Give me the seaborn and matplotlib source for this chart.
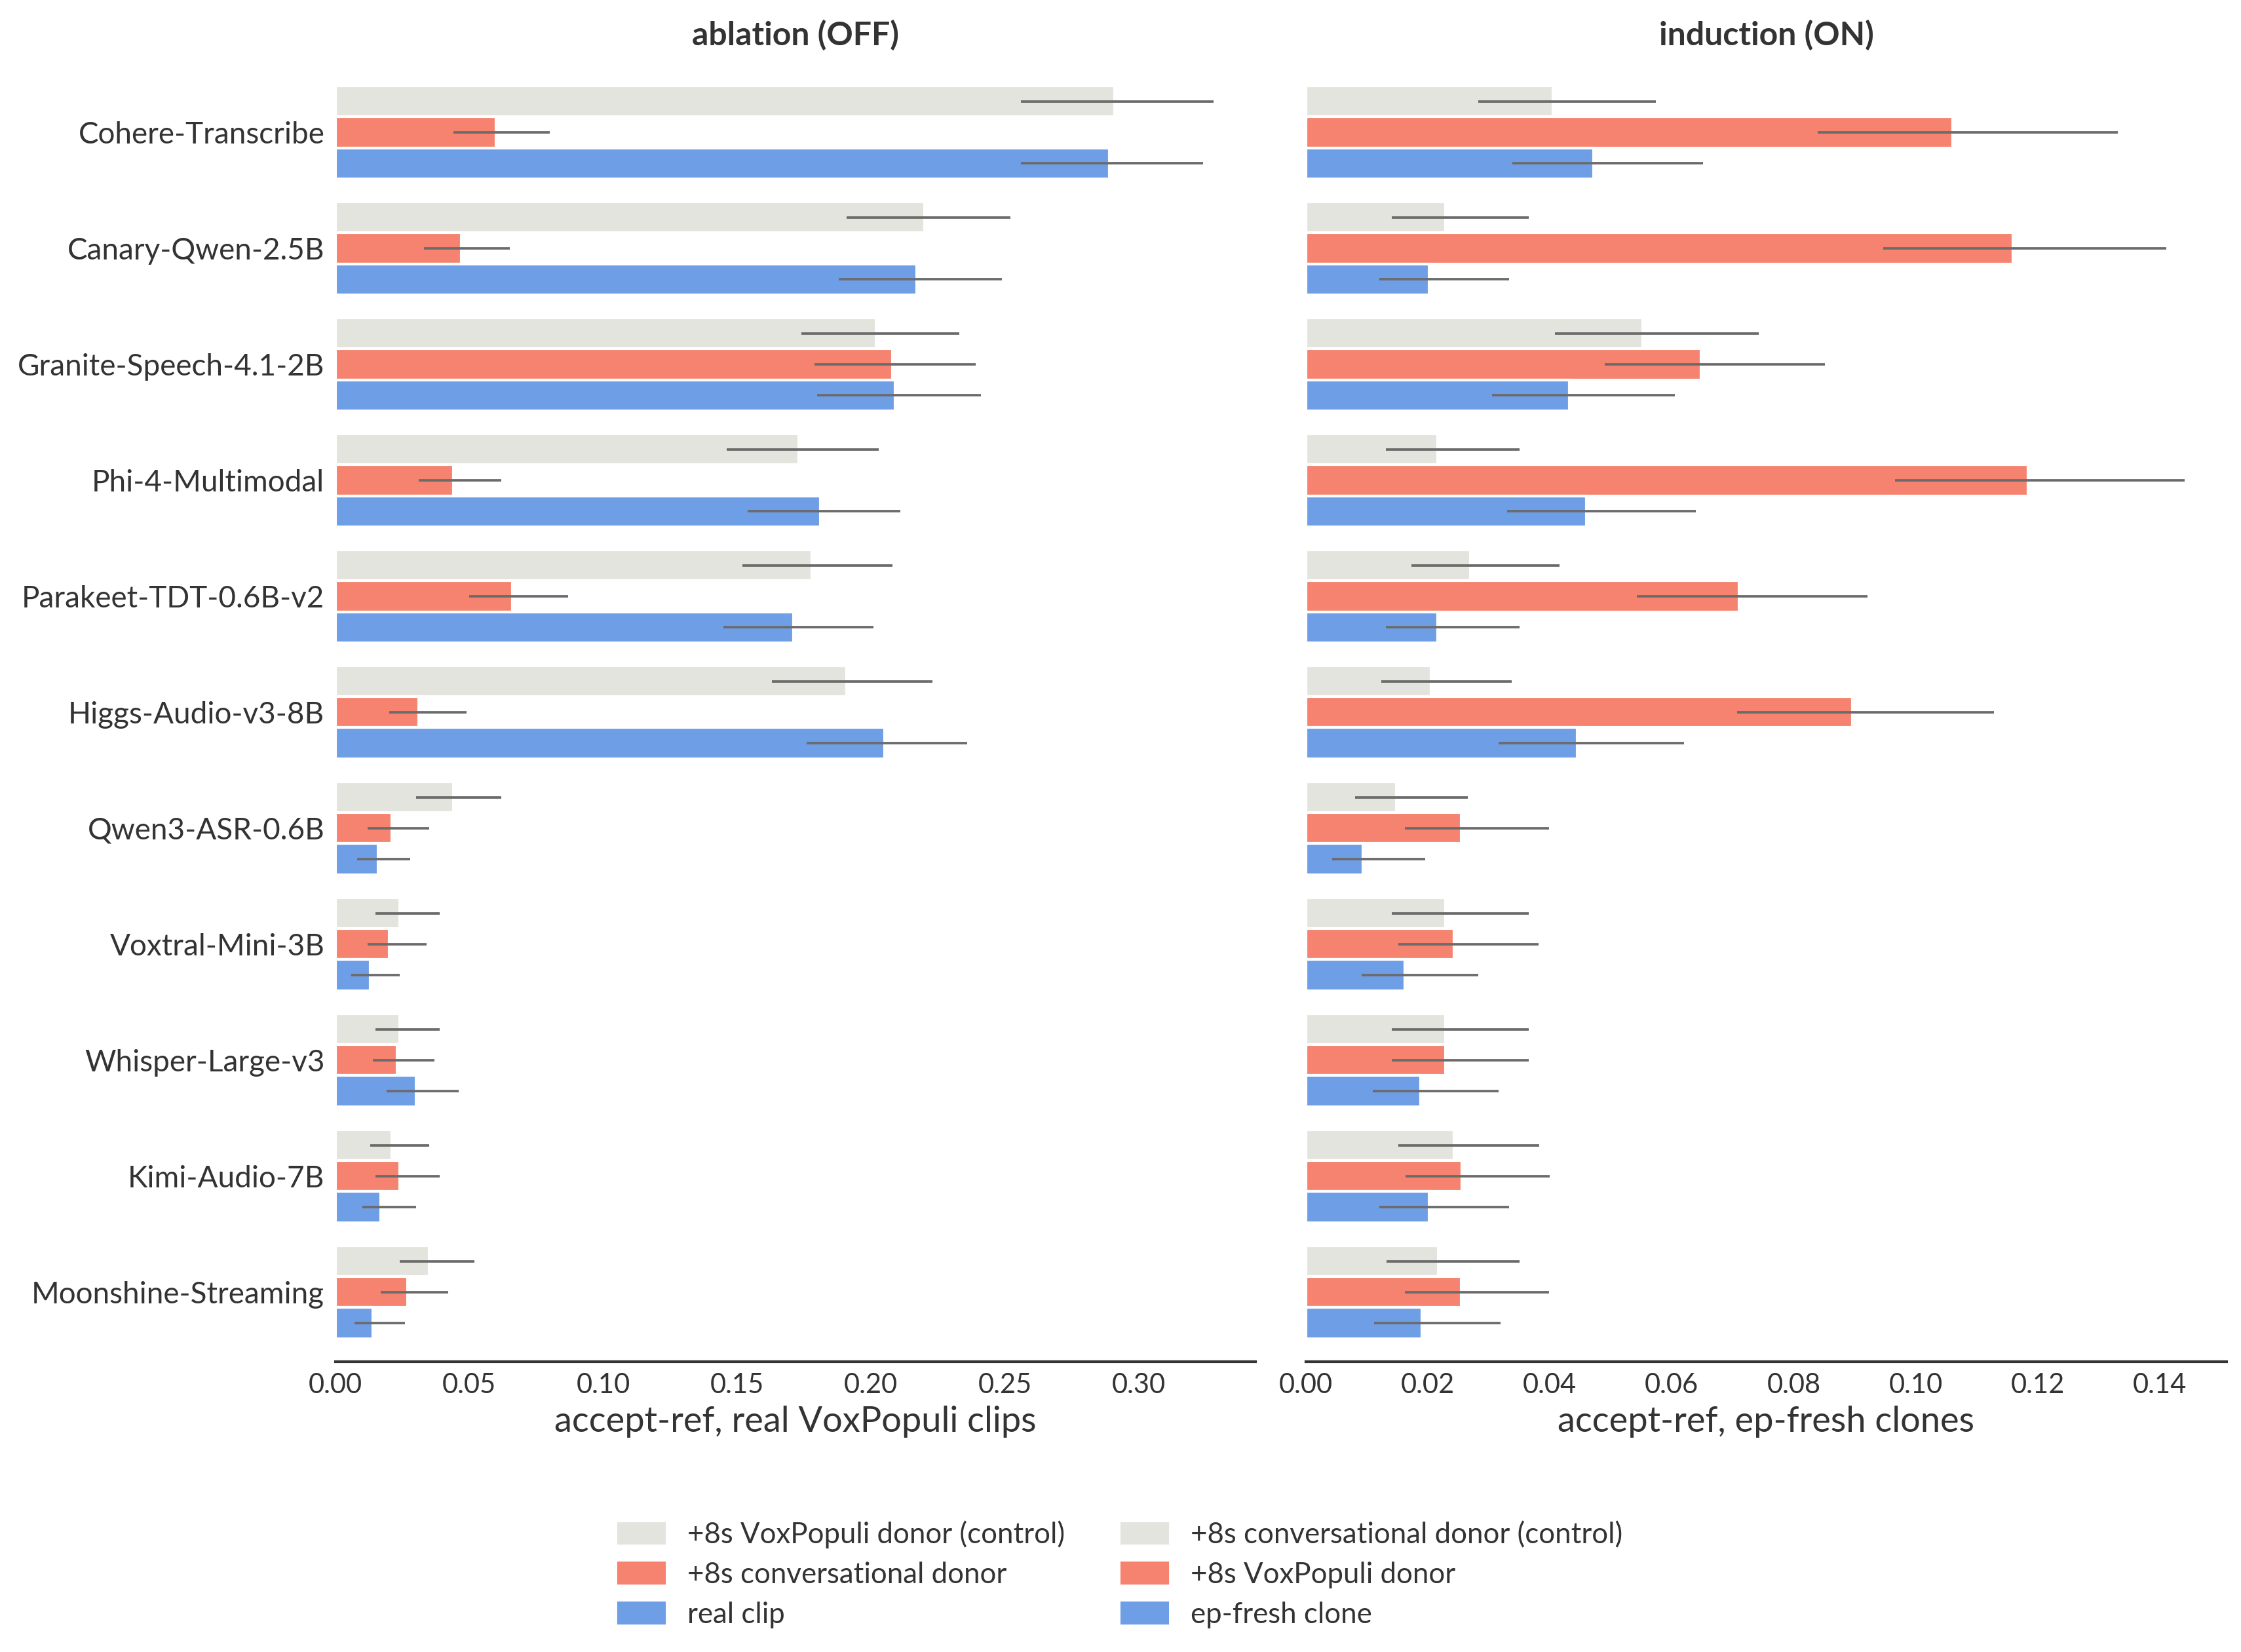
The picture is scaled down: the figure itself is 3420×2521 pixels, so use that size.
import matplotlib
matplotlib.use("Agg")
import matplotlib.pyplot as plt
import numpy as np
import pandas as pd
import seaborn as sns

# Models, top to bottom
MODELS = ["Cohere-Transcribe", "Canary-Qwen-2.5B", "Granite-Speech-4.1-2B", "Phi-4-Multimodal",
          "Parakeet-TDT-0.6B-v2", "Higgs-Audio-v3-8B", "Qwen3-ASR-0.6B", "Voxtral-Mini-3B",
          "Whisper-Large-v3", "Kimi-Audio-7B", "Moonshine-Streaming"]

# ablation (OFF) panel
OFF_LEVELS = ["+8s VoxPopuli donor (control)", "+8s conversational donor", "real clip"]
off_control = [0.291, 0.220, 0.202, 0.173, 0.178, 0.191, 0.044, 0.024, 0.024, 0.021, 0.035]
off_control_lo = [0.256, 0.191, 0.174, 0.146, 0.152, 0.163, 0.030, 0.015, 0.015, 0.013, 0.024]
off_control_hi = [0.328, 0.252, 0.233, 0.203, 0.208, 0.223, 0.062, 0.039, 0.039, 0.035, 0.052]
off_donor = [0.060, 0.047, 0.208, 0.044, 0.066, 0.031, 0.021, 0.020, 0.023, 0.024, 0.027]
off_donor_lo = [0.044, 0.033, 0.179, 0.031, 0.050, 0.020, 0.012, 0.012, 0.014, 0.015, 0.017]
off_donor_hi = [0.080, 0.065, 0.239, 0.062, 0.087, 0.049, 0.035, 0.034, 0.037, 0.039, 0.042]
off_real = [0.289, 0.217, 0.209, 0.181, 0.171, 0.205, 0.016, 0.013, 0.030, 0.017, 0.014]
off_real_lo = [0.256, 0.188, 0.180, 0.154, 0.145, 0.176, 0.008, 0.006, 0.019, 0.010, 0.007]
off_real_hi = [0.324, 0.249, 0.241, 0.211, 0.201, 0.236, 0.028, 0.024, 0.046, 0.030, 0.026]

# induction (ON) panel
ON_LEVELS = ["+8s conversational donor (control)", "+8s VoxPopuli donor", "ep-fresh clone"]
on_control = [0.0405, 0.0229, 0.0552, 0.0216, 0.0270, 0.0205, 0.0148, 0.0229, 0.0229, 0.0243, 0.0217]
on_control_lo = [0.0283, 0.0141, 0.0408, 0.0131, 0.0173, 0.0124, 0.0081, 0.0141, 0.0141, 0.0152, 0.0132]
on_control_hi = [0.0574, 0.0366, 0.0743, 0.0350, 0.0416, 0.0338, 0.0266, 0.0366, 0.0366, 0.0383, 0.0351]
on_donor = [0.1061, 0.1160, 0.0648, 0.1184, 0.0710, 0.0896, 0.0255, 0.0243, 0.0229, 0.0256, 0.0255]
on_donor_lo = [0.0839, 0.0947, 0.0490, 0.0966, 0.0543, 0.0707, 0.0162, 0.0152, 0.0141, 0.0163, 0.0162]
on_donor_hi = [0.1332, 0.1411, 0.0851, 0.1441, 0.0921, 0.1128, 0.0399, 0.0382, 0.0366, 0.0400, 0.0399]
on_clone = [0.0472, 0.0202, 0.0432, 0.0460, 0.0216, 0.0445, 0.0094, 0.0162, 0.0188, 0.0202, 0.0190]
on_clone_lo = [0.0339, 0.0120, 0.0305, 0.0330, 0.0131, 0.0316, 0.0043, 0.0091, 0.0110, 0.0120, 0.0112]
on_clone_hi = [0.0651, 0.0333, 0.0605, 0.0639, 0.0350, 0.0620, 0.0196, 0.0283, 0.0316, 0.0333, 0.0319]

COLORS = ["#e4e4df", "#f5836f", "#6e9ee6"]
TEXT = "#333333"

sns.set_theme(style="white")
plt.rcParams["font.family"] = ["Lato", "DejaVu Sans"]
plt.rcParams["text.color"] = TEXT
plt.rcParams["axes.labelcolor"] = TEXT
plt.rcParams["xtick.color"] = TEXT
plt.rcParams["ytick.color"] = TEXT


def long_frame(levels, series):
    rows = []
    for lvl, vals in zip(levels, series):
        for m, v in zip(MODELS, vals):
            rows.append({"model": m, "cond": lvl, "value": v})
    return pd.DataFrame(rows)


def draw_panel(ax, levels, series, lows, highs, title, xlabel, xmax):
    df = long_frame(levels, series)
    sns.barplot(data=df, y="model", x="value", hue="cond", hue_order=levels, order=MODELS,
                palette=COLORS, orient="h", errorbar=None, width=0.8, saturation=1,
                legend=False, ax=ax)
    # bootstrap CIs drawn by hand, no caps
    for cont, vals, lo, hi in zip(ax.containers, series, lows, highs):
        ys = [b.get_y() + b.get_height() / 2 for b in cont]
        vals = np.array(vals)
        xerr = [vals - np.array(lo), np.array(hi) - vals]
        ax.errorbar(vals, ys, xerr=xerr, fmt="none", ecolor="#6b6b6b", elinewidth=0.9,
                    capsize=0, zorder=3)
    ax.set_ylim(len(MODELS) - 0.4, -0.6)
    ax.set_xlim(0, xmax)
    ax.set_title(title, fontsize=12, fontweight="bold", pad=6.5)
    ax.set_xlabel(xlabel, fontsize=13, labelpad=3)
    ax.set_ylabel("")
    sns.despine(ax=ax, left=True)
    ax.spines["bottom"].set_color(TEXT)
    ax.spines["bottom"].set_linewidth(1.0)
    ax.tick_params(axis="x", length=0, labelsize=10, pad=4)
    ax.tick_params(axis="y", length=0, labelsize=11, pad=4)


fig = plt.figure(figsize=(11.4, 8.4035), dpi=300)
ax1 = fig.add_axes([0.1497, 0.1757, 0.4105, 0.7863])
ax2 = fig.add_axes([0.5827, 0.1757, 0.4109, 0.7863])

draw_panel(ax1, OFF_LEVELS, [off_control, off_donor, off_real],
           [off_control_lo, off_donor_lo, off_real_lo], [off_control_hi, off_donor_hi, off_real_hi],
           "ablation (OFF)", "accept-ref, real VoxPopuli clips", 0.3436)
ax1.set_xticks(np.arange(0, 0.31, 0.05))
ax1.set_xticklabels([f"{t:.2f}" for t in np.arange(0, 0.31, 0.05)])

draw_panel(ax2, ON_LEVELS, [on_control, on_donor, on_clone],
           [on_control_lo, on_donor_lo, on_clone_lo], [on_control_hi, on_donor_hi, on_clone_hi],
           "induction (ON)", "accept-ref, ep-fresh clones", 0.151)
ax2.set_xticks(np.arange(0, 0.141, 0.02))
ax2.set_xticklabels([f"{t:.2f}" for t in np.arange(0, 0.141, 0.02)])
ax2.set_yticklabels([])

handles = [plt.Rectangle((0, 0), 1, 1, color=c) for c in COLORS] * 2
labels = OFF_LEVELS + ON_LEVELS
fig.legend(handles, labels, ncol=2, loc="center", bbox_to_anchor=(0.5, 0.047),
           frameon=False, fontsize=10.5, handlelength=1.6, labelspacing=0.45,
           columnspacing=2.0)

fig.savefig("out.png", dpi=300)
